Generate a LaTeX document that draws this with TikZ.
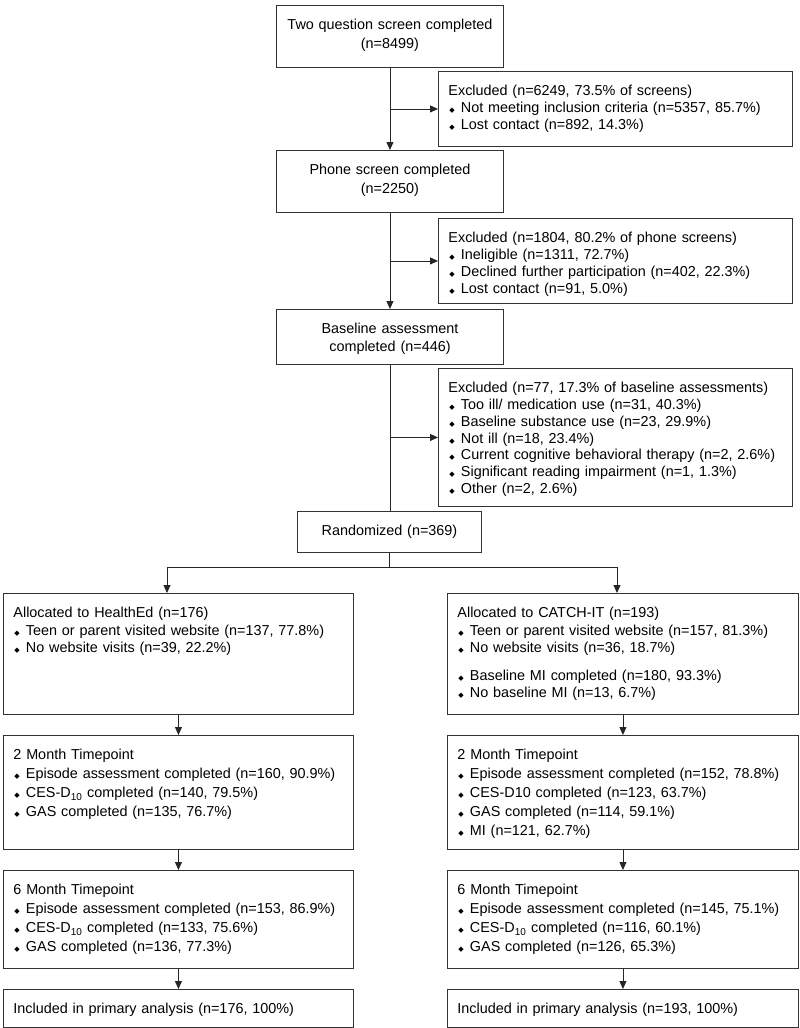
\documentclass[tikz,border=0pt]{standalone}
\usepackage{fontspec}
\setmainfont{Liberation Sans}
\newfontfamily\diafont{DejaVu Sans}
\usetikzlibrary{arrows.meta}

\newcommand{\dia}{\makebox[12.5pt][l]{\hspace{1pt}{\diafont\fontsize{7}{7}\selectfont ◆}}}

\begin{document}
\begin{tikzpicture}[x=1pt,y=-1pt,
  box/.style={draw=black!80,line width=0.9pt,anchor=north west,inner xsep=10pt,inner ysep=0pt,
    text height=24.5pt,align=left,font=\fontsize{14.4}{19}\selectfont},
  cbox/.style={box,align=center,inner xsep=4pt},
  exbox/.style={box,text width=334pt,font=\fontsize{14.4}{16.7}\selectfont},
  line/.style={draw=black!85,line width=0.9pt},
  arr/.style={line,-{Triangle[length=8pt,width=7pt]}}
  ]
  \useasboundingbox (0,0) rectangle (800,1028);

  % screening
  \node[cbox,text width=219pt,text depth=37.5pt] (two) at (276,5) {Two question screen completed\\(n=8499)};
  \node[exbox,text depth=50.5pt] (ex1) at (438,71) {Excluded (n=6249, 73.5\% of screens)\\
    \dia Not meeting inclusion criteria (n=5357, 85.7\%)\\
    \dia Lost contact (n=892, 14.3\%)};
  \node[cbox,text width=219pt,text depth=37.5pt] (phone) at (276,150) {Phone screen completed\\(n=2250)};
  \node[exbox,text depth=60.5pt] (ex2) at (438,218) {Excluded (n=1804, 80.2\% of phone screens)\\
    \dia Ineligible (n=1311, 72.7\%)\\
    \dia Declined further participation (n=402, 22.3\%)\\
    \dia Lost contact (n=91, 5.0\%)};
  \node[cbox,text width=219pt,text depth=30.5pt,font=\fontsize{14.4}{17.5}\selectfont] (base) at (276,309) {Baseline assessment\\completed (n=446)};
  \node[exbox,text depth=113.5pt] (ex3) at (438,368) {Excluded (n=77, 17.3\% of baseline assessments)\\
    \dia Too ill/ medication use (n=31, 40.3\%)\\
    \dia Baseline substance use (n=23, 29.9\%)\\
    \dia Not ill (n=18, 23.4\%)\\
    \dia Current cognitive behavioral therapy (n=2, 2.6\%)\\
    \dia Significant reading impairment (n=1, 1.3\%)\\
    \dia Other (n=2, 2.6\%)};
  \node[cbox,text width=176pt,text depth=16.5pt] (rand) at (297,511) {Randomized (n=369)};

  % arms
  \node[box,text width=330pt,text depth=96.5pt,font=\fontsize{14.4}{17.5}\selectfont] (he) at (3,593) {Allocated to HealthEd (n=176)\\
    \dia Teen or parent visited website (n=137, 77.8\%)\\
    \dia No website visits (n=39, 22.2\%)};
  \node[box,text width=331pt,text depth=96.5pt,font=\fontsize{14.4}{17.5}\selectfont] (ci) at (447,593) {Allocated to CATCH-IT (n=193)\\
    \dia Teen or parent visited website (n=157, 81.3\%)\\
    \dia No website visits (n=36, 18.7\%)\\[10pt]
    \dia Baseline MI completed (n=180, 93.3\%)\\
    \dia No baseline MI (n=13, 6.7\%)};
  \node[box,text width=330pt,text depth=89.5pt] (twoL) at (3,735) {2 Month Timepoint\\
    \dia Episode assessment completed (n=160, 90.9\%)\\
    \dia CES-D\textsubscript{10} completed (n=140, 79.5\%)\\
    \dia GAS completed (n=135, 76.7\%)};
  \node[box,text width=331pt,text depth=89.5pt] (twoR) at (447,735) {2 Month Timepoint\\
    \dia Episode assessment completed (n=152, 78.8\%)\\
    \dia CES-D10 completed (n=123, 63.7\%)\\
    \dia GAS completed (n=114, 59.1\%)\\
    \dia MI (n=121, 62.7\%)};
  \node[box,text width=330pt,text depth=73.5pt] (sixL) at (3,870) {6 Month Timepoint\\
    \dia Episode assessment completed (n=153, 86.9\%)\\
    \dia CES-D\textsubscript{10} completed (n=133, 75.6\%)\\
    \dia GAS completed (n=136, 77.3\%)};
  \node[box,text width=331pt,text depth=73.5pt] (sixR) at (447,870) {6 Month Timepoint\\
    \dia Episode assessment completed (n=145, 75.1\%)\\
    \dia CES-D\textsubscript{10} completed (n=116, 60.1\%)\\
    \dia GAS completed (n=126, 65.3\%)};
  \node[box,text width=330pt,text depth=13.5pt] (incL) at (3,989) {Included in primary analysis (n=176, 100\%)};
  \node[box,text width=331pt,text depth=13.5pt] (incR) at (447,989) {Included in primary analysis (n=193, 100\%)};

  \coordinate (lsplit) at (167,567);
  \coordinate (rsplit) at (617,567);

  % connectors
  \draw[arr] (two.south) -- (phone.north);
  \draw[arr] (two.south |- ex1.west) -- (ex1.west);
  \draw[arr] (phone.south) -- (base.north);
  \draw[arr] (phone.south |- ex2.west) -- (ex2.west);
  \draw[line] (base.south) -- (base.south |- rand.north);
  \draw[arr] (base.south |- ex3.west) -- (ex3.west);
  \draw[line] (rand.south) -- (rand.south |- lsplit);
  \draw[arr] (rand.south |- lsplit) -- (lsplit) -- (lsplit |- he.north);
  \draw[arr] (rand.south |- rsplit) -- (rsplit) -- (rsplit |- ci.north);
  \draw[arr] (he.south) -- (twoL.north);
  \draw[arr] (ci.south) -- (twoR.north);
  \draw[arr] (twoL.south) -- (sixL.north);
  \draw[arr] (twoR.south) -- (sixR.north);
  \draw[arr] (sixL.south) -- (incL.north);
  \draw[arr] (sixR.south) -- (incR.north);
\end{tikzpicture}
\end{document}
